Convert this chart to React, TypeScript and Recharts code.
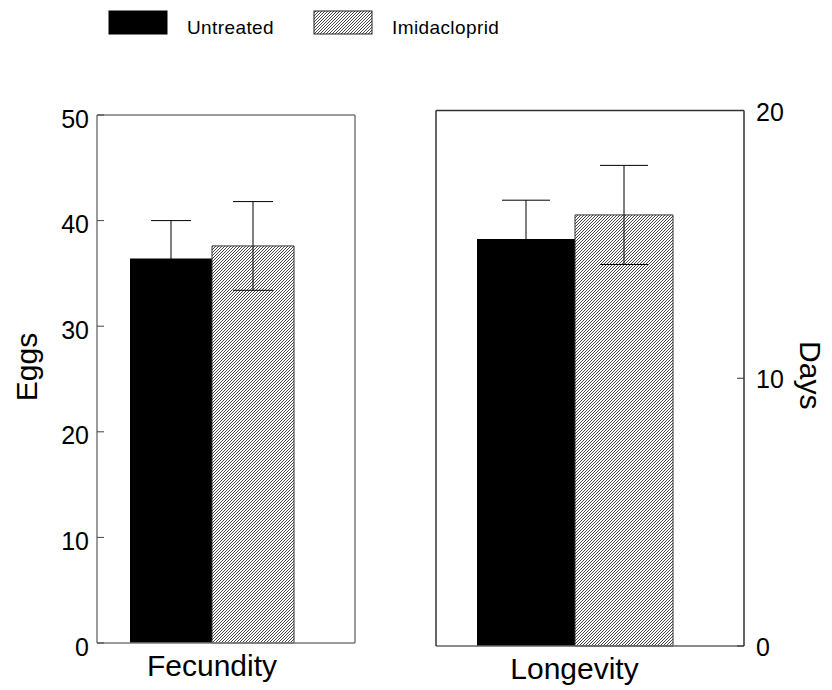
import React from 'react';
import { BarChart, Bar, XAxis, YAxis, ErrorBar } from 'recharts';

const seriesNames = ['Untreated', 'Imidacloprid'];
const fecundityCategory = ['Fecundity'];
const fecundityMeans = [36.4, 37.6];
const fecundityErrors = [3.6, 4.2];
const longevityCategory = ['Longevity'];
const longevityMeans = [15.2, 16.1];
const longevityErrors = [1.45, 1.85];
const eggTicks = [0, 10, 20, 30, 40, 50];
const dayTicks = [0, 10, 20];

const FONT = '"Liberation Sans", Arial, sans-serif';

const fecundityData = fecundityCategory.map((c) => ({
  cat: c,
  untreated: fecundityMeans[0],
  untreatedErr: fecundityErrors[0],
  imid: fecundityMeans[1],
  imidErr: fecundityErrors[1],
}));
const longevityData = longevityCategory.map((c) => ({
  cat: c,
  untreated: longevityMeans[0],
  untreatedErr: longevityErrors[0],
  imid: longevityMeans[1],
  imidErr: longevityErrors[1],
}));

const Hatch = ({ id }: { id: string }) => (
  <defs>
    <pattern id={id} patternUnits="userSpaceOnUse" width={3} height={3}>
      <rect x={0} y={0} width={3} height={3} fill="#fff" />
      <path d="M-1,1 l2,-2 M0,3 l3,-3 M2,4 l2,-2" stroke="#333" strokeWidth={0.9} />
    </pattern>
  </defs>
);

const EggsLabel = (props: any) => {
  const { viewBox, value } = props;
  const x = viewBox.x + 1;
  const y = viewBox.y + viewBox.height / 2 - 12;
  return (
    <text x={x} y={y} transform={`rotate(-90 ${x} ${y})`} textAnchor="middle" dominantBaseline="central" fontSize={30} fontFamily={FONT} fill="#000">
      {value}
    </text>
  );
};

const DaysLabel = (props: any) => {
  const { viewBox, value } = props;
  const x = viewBox.x + 66;
  const y = viewBox.y + viewBox.height / 2 - 3;
  return (
    <text x={x} y={y} transform={`rotate(90 ${x} ${y})`} textAnchor="middle" dominantBaseline="central" fontSize={30} fontFamily={FONT} fill="#000">
      {value}
    </text>
  );
};

const LeftTick = (props: any) => {
  const { x, y, payload } = props;
  return (
    <g>
      <line x1={x + 8} x2={x + 15} y1={y} y2={y} stroke="#444" strokeWidth={1} />
      <text x={x} y={y + 12.5} textAnchor="end" fontSize={25} fontFamily={FONT} fill="#000">
        {payload.value}
      </text>
    </g>
  );
};

const RightTick = (props: any) => {
  const { x, y, payload } = props;
  return (
    <g>
      <line x1={x - 12} x2={x - 19} y1={y} y2={y} stroke="#333" strokeWidth={1} />
      <text x={x} y={y + 10} textAnchor="start" fontSize={25} fontFamily={FONT} fill="#000">
        {payload.value}
      </text>
    </g>
  );
};

const Legend = () => {
  const swatchX = [109, 314];
  return (
    <svg width={832} height={50} style={{ position: 'absolute', left: 0, top: 0 }}>
      <Hatch id="hatchLegend" />
      {seriesNames.map((name, i) => (
        <g key={name}>
          <rect
            x={swatchX[i]}
            y={11}
            width={58}
            height={23}
            fill={i === 0 ? '#000' : 'url(#hatchLegend)'}
            stroke={i === 0 ? '#000' : '#222'}
            strokeWidth={1}
          />
          <text x={swatchX[i] + 78} y={34} fontSize={19} letterSpacing={0.4} fontFamily={FONT} fill="#000">
            {name}
          </text>
        </g>
      ))}
    </svg>
  );
};

export default function App() {
  const leftEdge = '#7a7a7a';
  const rightEdge = '#333';
  return (
    <div style={{ position: 'absolute', left: 0, top: 0, width: 832, height: 690, background: '#fff', fontFamily: FONT }}>
      <Legend />
      <div style={{ position: 'absolute', left: 0, top: 0 }}>
        <BarChart width={400} height={690} data={fecundityData} margin={{ top: 114, right: 44, bottom: 0, left: 25 }} barGap={0}>
          <Hatch id="hatchL" />
          <XAxis dataKey="cat" type="category" height={47} tickLine={false} tickSize={0} tickMargin={12}
            padding={{ left: 0, right: 28 }} axisLine={{ stroke: leftEdge, strokeWidth: 1.5 }}
            tick={{ fill: '#000', fontSize: 30, fontFamily: FONT }} interval={0} />
          <XAxis xAxisId="top" dataKey="cat" type="category" orientation="top" height={1} tick={false} tickLine={false}
            axisLine={{ stroke: leftEdge, strokeWidth: 1.5 }} />
          <YAxis type="number" domain={[0, 50]} ticks={eggTicks} width={72} tickSize={0} tickMargin={8}
            axisLine={{ stroke: leftEdge, strokeWidth: 1.5 }} tickLine={false}
            tick={<LeftTick />} interval={0}
            label={{ value: 'Eggs', content: EggsLabel }} />
          <YAxis yAxisId="r" type="number" domain={[0, 50]} orientation="right" width={1} tick={false} tickLine={false}
            axisLine={{ stroke: leftEdge, strokeWidth: 1.5 }} />
          <Bar dataKey="untreated" name={seriesNames[0]} fill="#000" barSize={82} isAnimationActive={false}>
            <ErrorBar dataKey="untreatedErr" width={20} stroke="#000" strokeWidth={1} />
          </Bar>
          <Bar dataKey="imid" name={seriesNames[1]} fill="url(#hatchL)" stroke="#333" strokeWidth={1} barSize={82} isAnimationActive={false}>
            <ErrorBar dataKey="imidErr" width={20} stroke="#000" strokeWidth={1} />
          </Bar>
        </BarChart>
      </div>
      <div style={{ position: 'absolute', left: 400, top: 0 }}>
        <BarChart width={432} height={690} data={longevityData} margin={{ top: 109.5, right: 0, bottom: 0, left: 35 }} barGap={0}>
          <Hatch id="hatchR" />
          <XAxis dataKey="cat" type="category" height={44} tickLine={false} tickSize={0} tickMargin={12}
            padding={{ left: 0, right: 31 }} axisLine={{ stroke: '#666', strokeWidth: 1.5 }}
            tick={{ fill: '#000', fontSize: 30, fontFamily: FONT }} interval={0} />
          <XAxis xAxisId="top" dataKey="cat" type="category" orientation="top" height={1} tick={false} tickLine={false}
            axisLine={{ stroke: rightEdge, strokeWidth: 1.5 }} />
          <YAxis yAxisId="l" type="number" domain={[0, 20]} orientation="left" width={1} tick={false} tickLine={false}
            axisLine={{ stroke: rightEdge, strokeWidth: 1.5 }} />
          <YAxis type="number" domain={[0, 20]} ticks={dayTicks} orientation="right" width={88} tickSize={0} tickMargin={12}
            axisLine={{ stroke: rightEdge, strokeWidth: 1.5 }} tickLine={false}
            tick={<RightTick />} interval={0}
            label={{ value: 'Days', content: DaysLabel }} />
          <Bar dataKey="untreated" name={seriesNames[0]} fill="#000" barSize={98} isAnimationActive={false}>
            <ErrorBar dataKey="untreatedErr" width={24} stroke="#000" strokeWidth={1} />
          </Bar>
          <Bar dataKey="imid" name={seriesNames[1]} fill="url(#hatchR)" stroke="#333" strokeWidth={1} barSize={98} isAnimationActive={false}>
            <ErrorBar dataKey="imidErr" width={24} stroke="#000" strokeWidth={1} />
          </Bar>
        </BarChart>
      </div>
    </div>
  );
}
